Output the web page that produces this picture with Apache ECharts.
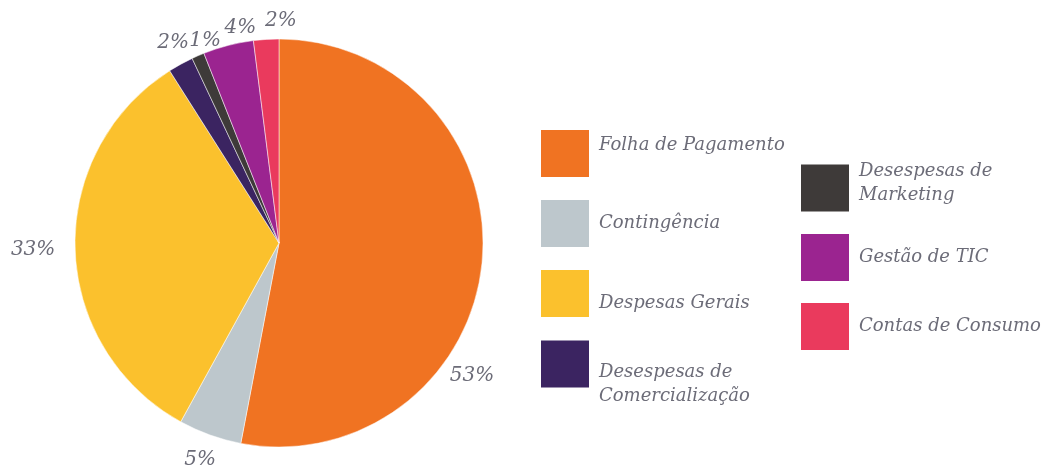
<!DOCTYPE html>
<html>
<head>
<meta charset="utf-8">
<script src="https://cdn.jsdelivr.net/npm/echarts@6/dist/echarts.min.js"></script>
<style>
  html, body { margin: 0; padding: 0; background: #fff; }
  #main { width: 1051px; height: 471px; }
</style>
</head>
<body>
<div id="main"></div>
<script>
// dados do gráfico
var categorias = ['Folha de Pagamento', 'Contingência', 'Despesas Gerais', 'Desespesas de\nComercialização',
                  'Desespesas de\nMarketing', 'Gestão de TIC', 'Contas de Consumo'];
var valores = [53, 5, 33, 2, 1, 4, 2];
var cores = ['#F07322', '#BDC7CC', '#FBC12D', '#3B2461', '#3E3A39', '#9B2490', '#EA3A5D'];

var corTexto = '#6c6c78';
var fonte = '"DejaVu Serif", serif';

// pequenos deslocamentos dos rótulos de % (como no original)
var deslocRotulo = [[-30, 112], [-3, 6], [-22, 0], [2, -4], [15, 3], [17, 2], [16, 1]];
// estilo rich de cada texto da legenda (desloca o texto em relação ao quadrado)
var estiloLegenda = ['up', 'n', 'dn', 'dn2', 'up2', 'n', 'n'];

var myChart = echarts.init(document.getElementById('main'));

var dados = [];
for (var i = 0; i < categorias.length; i++) {
  dados.push({ name: categorias[i], value: valores[i], itemStyle: { color: cores[i] } });
}

function formatLegenda(name) {
  var est = estiloLegenda[categorias.indexOf(name)];
  return name.split('\n').map(function (linha) {
    return '{' + est + '|' + linha + '}';
  }).join('\n');
}

var rich = {
  n:   { padding: [0, 0, 0, 5] },
  up:  { padding: [0, 0, 16, 5] },
  up2: { padding: [0, 0, 10, 5] },
  dn:  { padding: [20, 0, 0, 5] },
  dn2: { padding: [40, 0, 0, 5] }
};

var legendBase = {
  orient: 'vertical',
  icon: 'rect',
  itemWidth: 48,
  itemHeight: 47,
  itemGap: 23,
  selectedMode: false,
  itemStyle: { borderWidth: 0 },
  formatter: formatLegenda,
  textStyle: {
    color: corTexto,
    fontFamily: fonte,
    fontStyle: 'italic',
    fontSize: 18,
    lineHeight: 24,
    rich: rich
  }
};

var option = {
  animation: false,
  legend: [
    Object.assign({}, legendBase, { left: 536, top: 125, data: categorias.slice(0, 4) }),
    Object.assign({}, legendBase, { left: 796, top: 157, itemGap: 22, data: categorias.slice(4, 7) })
  ],
  series: [
    {
      type: 'pie',
      center: [279, 243],
      radius: [0, 204],
      startAngle: 90,
      clockwise: true,
      avoidLabelOverlap: false,
      data: dados,
      itemStyle: { borderColor: '#fff', borderWidth: 0.5 },
      label: {
        show: true,
        position: 'outside',
        formatter: '{c}%',
        color: corTexto,
        fontFamily: fonte,
        fontStyle: 'italic',
        fontSize: 20,
        distanceToLabelLine: 0
      },
      labelLine: { show: false, length: 20, length2: 0 },
      labelLayout: function (params) {
        var d = deslocRotulo[params.dataIndex];
        return { align: 'center', verticalAlign: 'middle', dx: d[0], dy: d[1], hideOverlap: false };
      },
      emphasis: { disabled: true }
    }
  ]
};

myChart.setOption(option);
window.onresize = myChart.resize;
</script>
</body>
</html>
